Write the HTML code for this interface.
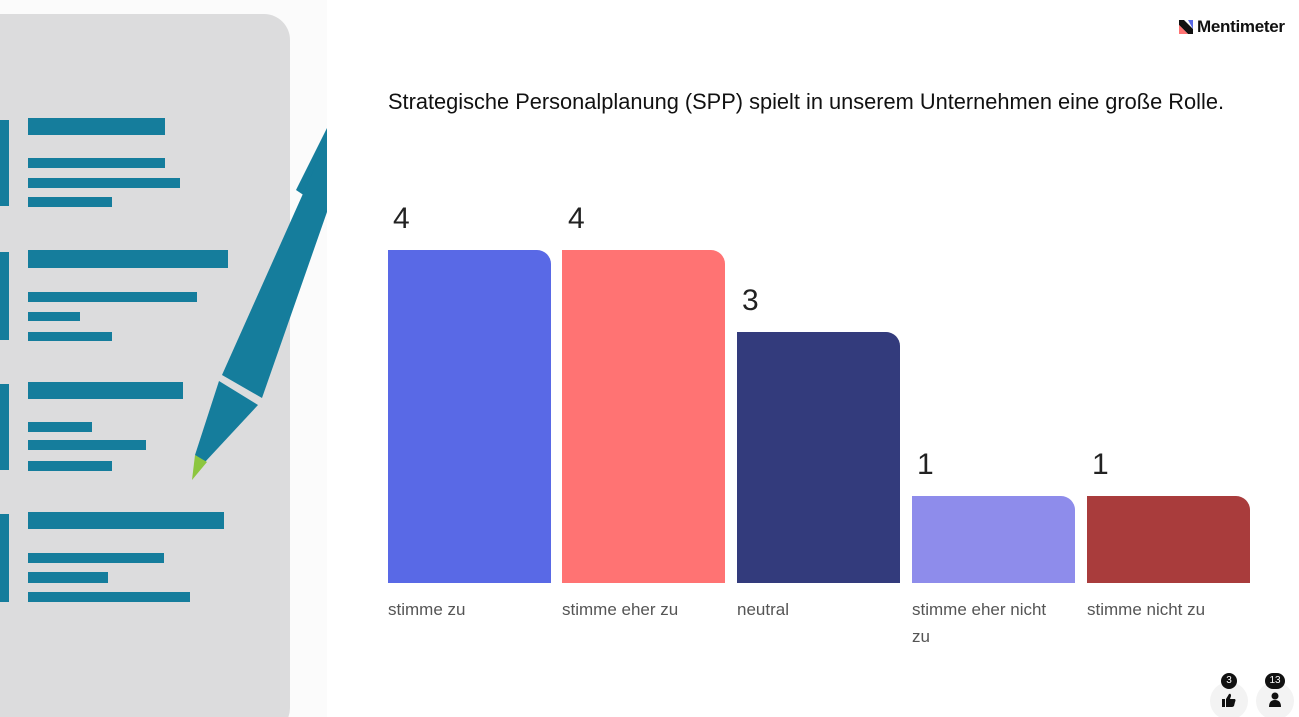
<!DOCTYPE html>
<html style="overflow:hidden"><head><meta charset="utf-8"><style>
html,body{overflow:hidden;height:717px}
body{margin:0;width:1299px;height:717px;background:#fff;position:relative;overflow:hidden;font-family:"Liberation Sans",sans-serif;}
.a{position:absolute}
.bar{position:absolute;border-radius:0 14px 0 0}
.v{position:absolute;font-size:30px;color:#222}
.l{position:absolute;font-size:17px;color:#555;line-height:27px;width:150px}
.ln{position:absolute;background:#157d9c;left:28px}
</style></head><body>
<div class="a" style="left:0;top:0;width:327px;height:717px;background:#fbfbfb;overflow:hidden">
<div class="a" style="left:-30px;top:14px;width:320px;height:720px;background:#dcdcdd;border-radius:26px"></div>
<div class="a" style="left:0;top:120px;width:9px;height:86px;background:#157d9c"></div>
<div class="a" style="left:0;top:252px;width:9px;height:88px;background:#157d9c"></div>
<div class="a" style="left:0;top:384px;width:9px;height:86px;background:#157d9c"></div>
<div class="a" style="left:0;top:514px;width:9px;height:88px;background:#157d9c"></div>
<div class="ln" style="top:118px;width:137px;height:17px"></div>
<div class="ln" style="top:158px;width:137px;height:10px"></div>
<div class="ln" style="top:178px;width:152px;height:10px"></div>
<div class="ln" style="top:197px;width:84px;height:10px"></div>
<div class="ln" style="top:250px;width:200px;height:18px"></div>
<div class="ln" style="top:292px;width:169px;height:10px"></div>
<div class="ln" style="top:312px;width:52px;height:9px"></div>
<div class="ln" style="top:332px;width:84px;height:9px"></div>
<div class="ln" style="top:382px;width:155px;height:17px"></div>
<div class="ln" style="top:422px;width:64px;height:10px"></div>
<div class="ln" style="top:440px;width:118px;height:10px"></div>
<div class="ln" style="top:461px;width:84px;height:10px"></div>
<div class="ln" style="top:512px;width:196px;height:17px"></div>
<div class="ln" style="top:553px;width:136px;height:10px"></div>
<div class="ln" style="top:572px;width:80px;height:11px"></div>
<div class="ln" style="top:592px;width:162px;height:10px"></div>
<svg class="a" style="left:0;top:0" width="327" height="717">
<polygon points="296,190 305,196 327,160 327,128" fill="#157d9c"/>
<polygon points="327,140 327,212 262,398 222,375" fill="#157d9c"/>
<polygon points="219,381 258,405 205,462 195,455" fill="#157d9c"/>
<polygon points="195,455 207,462 192,480" fill="#8cc63f"/>
</svg>
</div>
<svg class="a" style="left:1179px;top:20px" width="14" height="14"><polygon points="0,0 5,0 14,9 14,14 9,14 0,5" fill="#111"/><polygon points="0,5 9,14 0,14" fill="#ff7373"/><polygon points="9,0 14,0 14,9" fill="#5969e6"/></svg>
<div class="a" style="left:1197px;top:17px;font-size:17px;font-weight:bold;color:#111;letter-spacing:-0.3px">Mentimeter</div>
<div class="a" style="left:388px;top:89px;font-size:21.8px;color:#111;white-space:nowrap">Strategische Personalplanung (SPP) spielt in unserem Unternehmen eine große Rolle.</div>
<div class="bar" style="left:388px;top:250px;width:163px;height:333px;background:#5969e6"></div>
<div class="bar" style="left:562px;top:250px;width:163px;height:333px;background:#ff7373"></div>
<div class="bar" style="left:737px;top:332px;width:163px;height:251px;background:#333b7c"></div>
<div class="bar" style="left:912px;top:496px;width:163px;height:87px;background:#8e8ceb"></div>
<div class="bar" style="left:1087px;top:496px;width:163px;height:87px;background:#a93c3c"></div>
<div class="v" style="left:393px;top:202px">4</div>
<div class="v" style="left:568px;top:202px">4</div>
<div class="v" style="left:742px;top:284px">3</div>
<div class="v" style="left:917px;top:448px">1</div>
<div class="v" style="left:1092px;top:448px">1</div>
<div class="l" style="left:388px;top:596px">stimme zu</div>
<div class="l" style="left:562px;top:596px">stimme eher zu</div>
<div class="l" style="left:737px;top:596px">neutral</div>
<div class="l" style="left:912px;top:596px">stimme eher nicht zu</div>
<div class="l" style="left:1087px;top:596px">stimme nicht zu</div>
<div class="a" style="left:1210px;top:682px;width:38px;height:38px;border-radius:50%;background:#f3f3f3"></div>
<div class="a" style="left:1256px;top:682px;width:38px;height:38px;border-radius:50%;background:#f3f3f3"></div>
<div class="a" style="left:1221px;top:673px;width:16px;height:16px;border-radius:50%;background:#111;color:#fff;font-size:10px;text-align:center;line-height:16px">3</div>
<div class="a" style="left:1265px;top:673px;width:20px;height:16px;border-radius:8px;background:#111;color:#fff;font-size:10px;text-align:center;line-height:16px">13</div>
<svg class="a" style="left:1222px;top:693px" width="14" height="14"><rect x="0" y="6" width="3" height="8" fill="#111"/><path d="M4,6 L7,1 Q9,0 9,3 L8,6 L13,6 Q14,7 13,9 L12,13 Q11,14 10,14 L4,14Z" fill="#111"/></svg>
<svg class="a" style="left:1268px;top:692px" width="14" height="16"><circle cx="7" cy="4" r="3.5" fill="#111"/><path d="M1,15 Q1,8 7,8 Q13,8 13,15Z" fill="#111"/></svg>
</body></html>
